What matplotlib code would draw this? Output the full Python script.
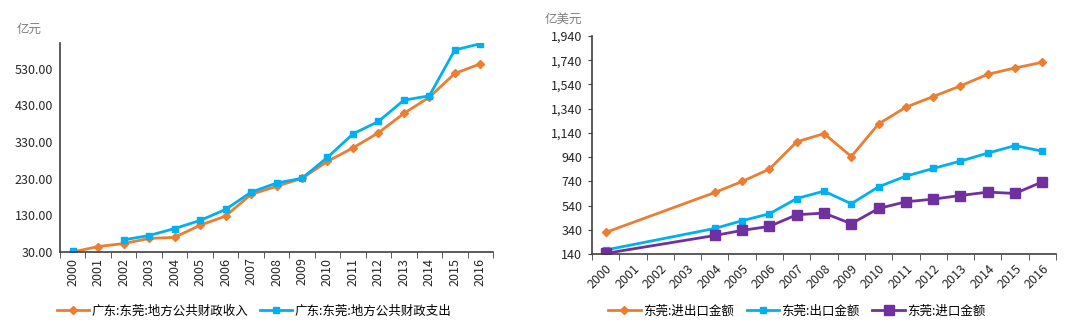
import matplotlib
matplotlib.use("Agg")
import matplotlib.pyplot as plt
import numpy as np
from matplotlib.ticker import FixedLocator, NullFormatter

plt.rcParams['font.family'] = ['Noto Sans CJK SC', 'DejaVu Sans']

years = [str(y) for y in range(2000, 2017)]

# Left chart (亿元)
revenue = [30, 45, 53, 67, 70, 103, 128, 187, 209, 231, 277, 314, 355, 408, 452, 517, 543]
expenditure = [33, None, 63, 75, 94, 116, 146, 193, 218, 231, 288, 352, 386, 444, 456, 581, 598]
left_yticks = [30, 130, 230, 330, 430, 530]
left_labels = ['广东:东莞:地方公共财政收入', '广东:东莞:地方公共财政支出']

# Right chart (亿美元)
total_trade = [318, None, None, None, 648, 739, 841, 1066, 1134, 945, 1214, 1352, 1440, 1528, 1624, 1676, 1723]
exports = [173, None, None, None, 351, 415, 472, 598, 659, 555, 695, 783, 846, 907, 973, 1035, 989]
imports = [145, None, None, None, 293, 335, 368, 464, 478, 390, 516, 571, 593, 623, 651, 640, 736]
right_yticks = [140, 340, 540, 740, 940, 1140, 1340, 1540, 1740, 1940]
right_labels = ['东莞:进出口金额', '东莞:出口金额', '东莞:进口金额']

ORANGE = '#ED7D31'
BLUE = '#00B0F0'
PURPLE = '#7030A0'
W, H = 1080, 327

fig = plt.figure(figsize=(W / 100, H / 100), dpi=100)

def ax_rect(x0, y0, x1, y1):
    return [x0 / W, 1 - y1 / H, (x1 - x0) / W, (y1 - y0) / H]

def to_arr(v):
    return np.array([np.nan if a is None else a for a in v], dtype=float)

x = np.arange(len(years))

# ---- left ----
ax1 = fig.add_axes(ax_rect(60, 43, 493, 252))
ax1.plot(x, to_arr(revenue), color=ORANGE, lw=2, marker='D', ms=4, label=left_labels[0])
ax1.plot(x, to_arr(expenditure), color=BLUE, lw=2, marker='s', ms=5, label=left_labels[1])
ax1.set_xlim(-0.5, len(years) - 0.5)
ax1.set_ylim(30, 600)
ax1.set_yticks(left_yticks)
ax1.set_yticklabels([f'{v:.2f}' for v in left_yticks], fontsize=9, color='#262626')
ax1.tick_params(axis='y', length=0, pad=5)
ax1.set_xticks(x)
ax1.set_xticklabels(years, rotation=90, fontsize=9, color='#262626')
ax1.tick_params(axis='x', which='major', length=0, pad=4)
ax1.xaxis.set_minor_locator(FixedLocator(np.arange(-0.5, len(years), 1.0)))
ax1.xaxis.set_minor_formatter(NullFormatter())
ax1.tick_params(axis='x', which='minor', length=4, color='#404040', direction='out')
for s in ['top', 'right']:
    ax1.spines[s].set_visible(False)
for s in ['left', 'bottom']:
    ax1.spines[s].set_color('#404040')
    ax1.spines[s].set_linewidth(1.2)
fig.text(17 / W, 1 - 29 / H, '亿元', fontsize=9, color='#7f7f7f', va='center', ha='left')
ax1.legend(loc='center', bbox_to_anchor=(254 / W, 1 - 311 / H), bbox_transform=fig.transFigure,
           ncol=2, frameon=False, fontsize=9, handlelength=2.6, columnspacing=0.9, handletextpad=0.2)

# ---- right ----
ax2 = fig.add_axes(ax_rect(592, 36, 1056, 254))
for data, col, mk, ms, lab in [(total_trade, ORANGE, 'D', 4, right_labels[0]),
                               (exports, BLUE, 's', 5, right_labels[1]),
                               (imports, PURPLE, 's', 6.5, right_labels[2])]:
    arr = to_arr(data)
    m = ~np.isnan(arr)
    ax2.plot(x[m], arr[m], color=col, lw=2, marker=mk, ms=ms, label=lab)
ax2.set_xlim(-0.5, len(years) - 0.5)
ax2.set_ylim(140, 1940)
ax2.set_yticks(right_yticks)
ax2.set_yticklabels([f'{v:,}' for v in right_yticks], fontsize=9, color='#262626')
ax2.tick_params(axis='y', length=3, color='#404040', pad=4)
ax2.set_xticks(x)
ax2.set_xticklabels(years, rotation=45, ha='right', rotation_mode='anchor', fontsize=9, color='#262626')
ax2.tick_params(axis='x', which='major', length=0, pad=6)
ax2.xaxis.set_minor_locator(FixedLocator(np.arange(-0.5, len(years), 1.0)))
ax2.xaxis.set_minor_formatter(NullFormatter())
ax2.tick_params(axis='x', which='minor', length=4, color='#404040', direction='out')
for s in ['top', 'right']:
    ax2.spines[s].set_visible(False)
for s in ['left', 'bottom']:
    ax2.spines[s].set_color('#404040')
    ax2.spines[s].set_linewidth(1.2)
fig.text(545 / W, 1 - 19 / H, '亿美元', fontsize=9, color='#7f7f7f', va='center', ha='left')
ax2.legend(loc='center', bbox_to_anchor=(797 / W, 1 - 311 / H), bbox_transform=fig.transFigure,
           ncol=3, frameon=False, fontsize=9, handlelength=2.6, columnspacing=1.0, handletextpad=0.2)

fig.savefig('out.png', dpi=100, facecolor='white')
